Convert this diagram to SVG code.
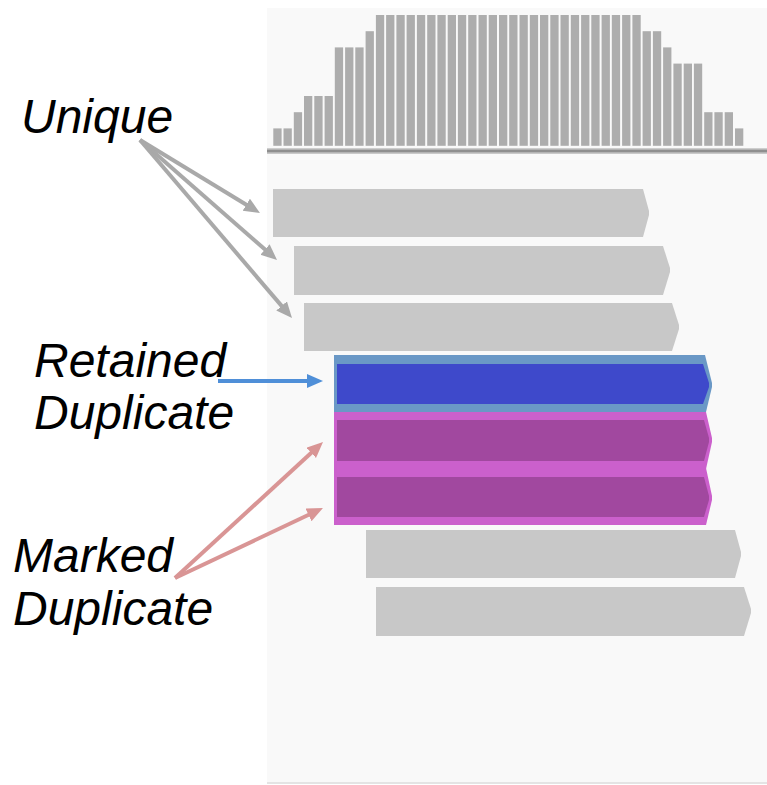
<svg xmlns="http://www.w3.org/2000/svg" width="767" height="785" viewBox="0 0 767 785">
  <style>
    .label { font-family: "Liberation Sans", Arial, sans-serif; font-style: italic; font-size: 48px; fill: #000; }
    .bar { fill: #adadad; }
    .read { fill: #c8c8c8; }
    .conn { fill: none; stroke-width: 4; }
    .gray { stroke: #a9a9a9; }
    .blue { stroke: #4f8fd8; }
    .pink { stroke: #d99595; }
  </style>
  <defs>
    <marker id="head-gray" markerUnits="userSpaceOnUse" markerWidth="18" markerHeight="16" refX="2" refY="7" orient="auto">
      <path d="M0,0 L16,7 L0,14 z" fill="#a9a9a9"/>
    </marker>
    <marker id="head-blue" markerUnits="userSpaceOnUse" markerWidth="18" markerHeight="16" refX="2" refY="7" orient="auto">
      <path d="M0,0 L16,7 L0,14 z" fill="#4f8fd8"/>
    </marker>
    <marker id="head-pink" markerUnits="userSpaceOnUse" markerWidth="18" markerHeight="16" refX="2" refY="7" orient="auto">
      <path d="M0,0 L16,7 L0,14 z" fill="#d99595"/>
    </marker>
  </defs>

  <rect width="767" height="785" fill="#ffffff"/>

  <!-- alignment viewer panel -->
  <g id="panel">
    <rect x="267" y="8" width="500" height="775" fill="#f9f9f9"/>
    <rect x="267" y="782" width="500" height="2" fill="#e4e4e4"/>
  </g>

  <!-- coverage track -->
  <g id="coverage">
    <rect class="bar" x="273.3" y="128.4" width="8.3" height="17.4"/>
    <rect class="bar" x="283.5" y="128.4" width="8.3" height="17.4"/>
    <rect class="bar" x="293.8" y="112.2" width="8.3" height="33.6"/>
    <rect class="bar" x="304.0" y="96.0" width="8.3" height="49.8"/>
    <rect class="bar" x="314.3" y="96.0" width="8.3" height="49.8"/>
    <rect class="bar" x="324.6" y="96.0" width="8.3" height="49.8"/>
    <rect class="bar" x="334.8" y="47.4" width="8.3" height="98.4"/>
    <rect class="bar" x="345.1" y="47.4" width="8.3" height="98.4"/>
    <rect class="bar" x="355.3" y="47.4" width="8.3" height="98.4"/>
    <rect class="bar" x="365.6" y="31.2" width="8.3" height="114.6"/>
    <rect class="bar" x="375.9" y="15" width="8.3" height="130.8"/>
    <rect class="bar" x="386.1" y="15" width="8.3" height="130.8"/>
    <rect class="bar" x="396.4" y="15" width="8.3" height="130.8"/>
    <rect class="bar" x="406.6" y="15" width="8.3" height="130.8"/>
    <rect class="bar" x="416.9" y="15" width="8.3" height="130.8"/>
    <rect class="bar" x="427.2" y="15" width="8.3" height="130.8"/>
    <rect class="bar" x="437.4" y="15" width="8.3" height="130.8"/>
    <rect class="bar" x="447.7" y="15" width="8.3" height="130.8"/>
    <rect class="bar" x="457.9" y="15" width="8.3" height="130.8"/>
    <rect class="bar" x="468.2" y="15" width="8.3" height="130.8"/>
    <rect class="bar" x="478.5" y="15" width="8.3" height="130.8"/>
    <rect class="bar" x="488.7" y="15" width="8.3" height="130.8"/>
    <rect class="bar" x="499.0" y="15" width="8.3" height="130.8"/>
    <rect class="bar" x="509.2" y="15" width="8.3" height="130.8"/>
    <rect class="bar" x="519.5" y="15" width="8.3" height="130.8"/>
    <rect class="bar" x="529.8" y="15" width="8.3" height="130.8"/>
    <rect class="bar" x="540.0" y="15" width="8.3" height="130.8"/>
    <rect class="bar" x="550.3" y="15" width="8.3" height="130.8"/>
    <rect class="bar" x="560.5" y="15" width="8.3" height="130.8"/>
    <rect class="bar" x="570.8" y="15" width="8.3" height="130.8"/>
    <rect class="bar" x="581.1" y="15" width="8.3" height="130.8"/>
    <rect class="bar" x="591.3" y="15" width="8.3" height="130.8"/>
    <rect class="bar" x="601.6" y="15" width="8.3" height="130.8"/>
    <rect class="bar" x="611.8" y="15" width="8.3" height="130.8"/>
    <rect class="bar" x="622.1" y="15" width="8.3" height="130.8"/>
    <rect class="bar" x="632.4" y="15" width="8.3" height="130.8"/>
    <rect class="bar" x="642.6" y="31.2" width="8.3" height="114.6"/>
    <rect class="bar" x="652.9" y="31.2" width="8.3" height="114.6"/>
    <rect class="bar" x="663.1" y="47.4" width="8.3" height="98.4"/>
    <rect class="bar" x="673.4" y="63.6" width="8.3" height="82.2"/>
    <rect class="bar" x="683.7" y="63.6" width="8.3" height="82.2"/>
    <rect class="bar" x="693.9" y="63.6" width="8.3" height="82.2"/>
    <rect class="bar" x="704.2" y="112.2" width="8.3" height="33.6"/>
    <rect class="bar" x="714.4" y="112.2" width="8.3" height="33.6"/>
    <rect class="bar" x="724.7" y="112.2" width="8.3" height="33.6"/>
    <rect class="bar" x="735.0" y="128.4" width="8.3" height="17.4"/>
    <rect x="267" y="148.3" width="500" height="5.5" fill="#bdbdbd"/>
    <rect x="267" y="149.8" width="500" height="2.4" fill="#8f8f8f"/>
  </g>

  <!-- unique reads -->
  <g id="read-1">
    <polygon class="read" points="273,189 643,189 649,211 649,215 643,237 273,237"/>
  </g>
  <g id="read-2">
    <polygon class="read" points="294,246 663,246 670,268 670,272 663,295 294,295"/>
  </g>
  <g id="read-3">
    <polygon class="read" points="304,303 672,303 679,325 679,329 672,351 304,351"/>
  </g>

  <!-- retained duplicate -->
  <g id="read-retained">
    <polygon points="334,355 705,355 712,383 712,387 706,412 334,412" fill="#6a98c6"/>
    <polygon points="337,364 703,364 709,383 709,387 703,404 337,404" fill="#3e49cb"/>
  </g>

  <!-- marked duplicates -->
  <g id="read-marked-1">
    <polygon points="334,412 706,412 712,438 712,442 706,469 334,469" fill="#cb60cc"/>
    <polygon points="337,420 704,420 709,438 709,442 704,461 337,461" fill="#a1489f"/>
  </g>
  <g id="read-marked-2">
    <polygon points="334,468 706,468 712,496 712,500 706,525 334,525" fill="#cb60cc"/>
    <polygon points="337,477 704,477 709,496 709,500 704,517 337,517" fill="#a1489f"/>
  </g>

  <!-- remaining unique reads -->
  <g id="read-4">
    <polygon class="read" points="366,530 735,530 741,552 741,556 735,578 366,578"/>
  </g>
  <g id="read-5">
    <polygon class="read" points="376,587 744,587 751,609 751,613 744,636 376,636"/>
  </g>

  <!-- labels -->
  <g id="label-unique">
    <text class="label" x="21" y="133">Unique</text>
  </g>
  <g id="label-retained">
    <text class="label" x="34" y="377">Retained</text>
    <text class="label" x="34" y="429">Duplicate</text>
  </g>
  <g id="label-marked">
    <text class="label" x="13" y="572">Marked</text>
    <text class="label" x="13" y="625">Duplicate</text>
  </g>

  <!-- connectors -->
  <g id="connectors">
    <line class="conn gray" x1="140" y1="140" x2="248.0" y2="205.7" marker-end="url(#head-gray)"/>
    <line class="conn gray" x1="140" y1="140" x2="266.5" y2="250.8" marker-end="url(#head-gray)"/>
    <line class="conn gray" x1="140" y1="140" x2="282.9" y2="307.4" marker-end="url(#head-gray)"/>
    <line class="conn blue" x1="218" y1="381" x2="309" y2="381" marker-end="url(#head-blue)"/>
    <line class="conn pink" x1="175" y1="578" x2="312.7" y2="451.5" marker-end="url(#head-pink)"/>
    <line class="conn pink" x1="175" y1="578" x2="310.3" y2="514" marker-end="url(#head-pink)"/>
  </g>
</svg>
